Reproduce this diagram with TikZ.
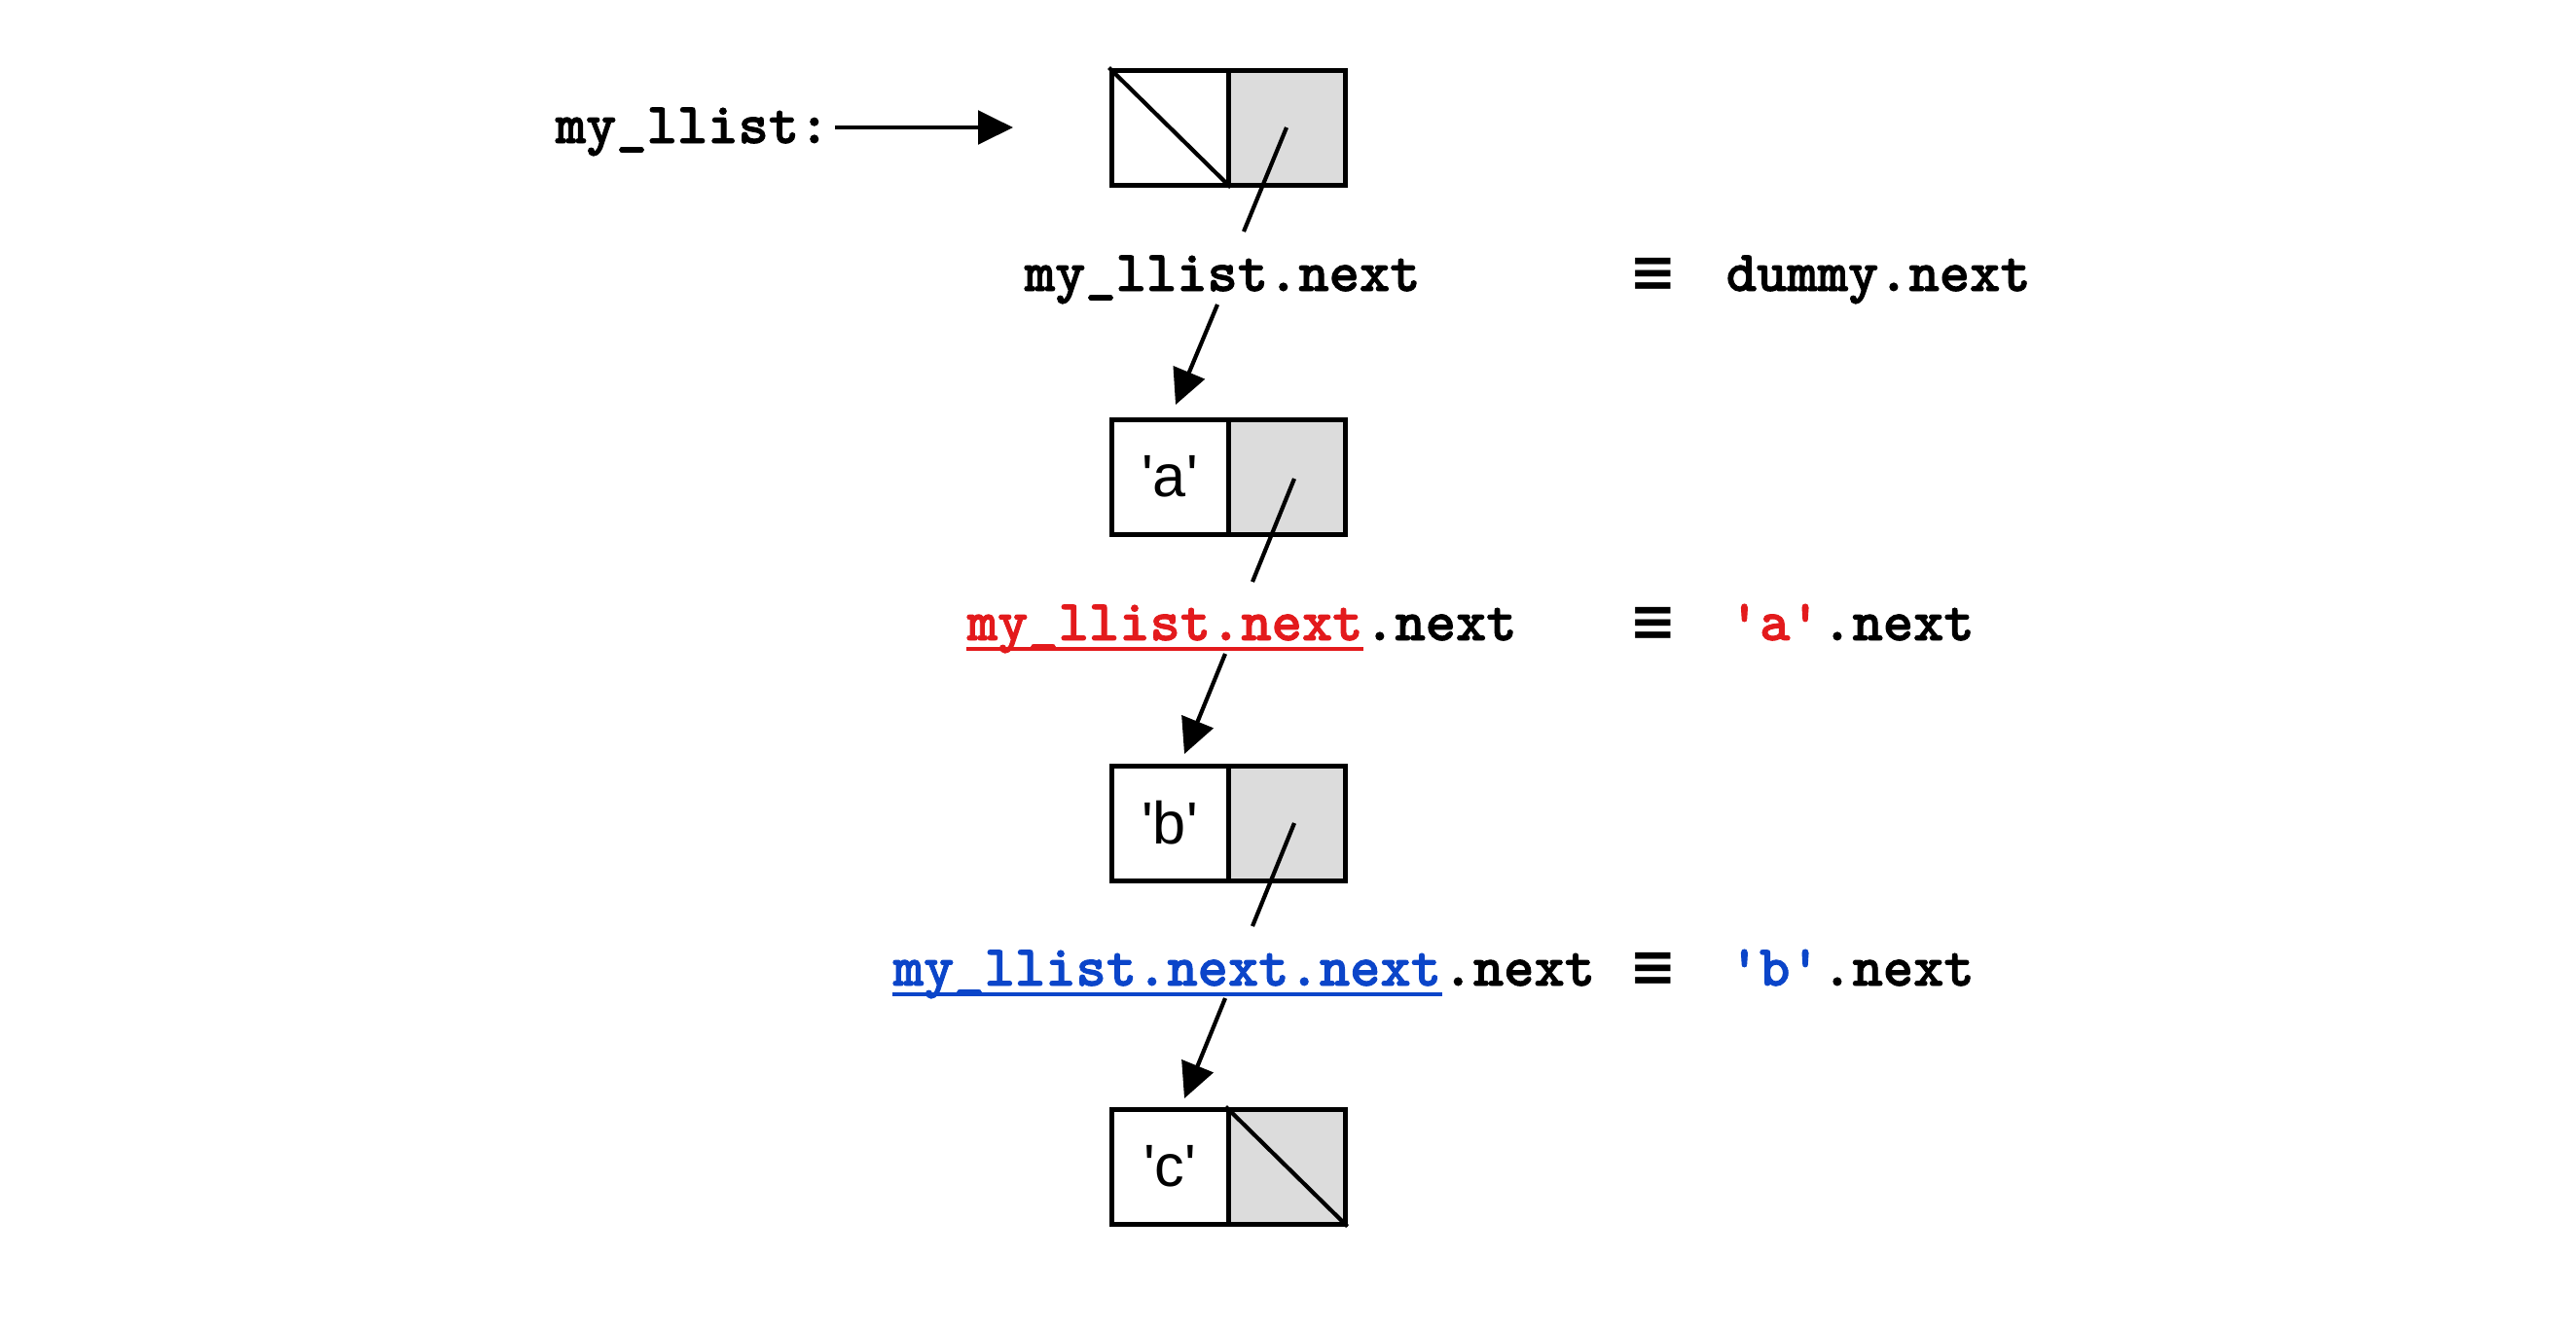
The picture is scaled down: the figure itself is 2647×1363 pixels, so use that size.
\documentclass[tikz,border=0pt]{standalone}
\usepackage{fontspec}
\newfontfamily\boxfont{Liberation Sans}
\newfontfamily\codefont{lmmonolt10-bold.otf}[FakeBold=1.5]
\newfontfamily\symfont{DejaVu Sans}
\usetikzlibrary{arrows.meta}
\definecolor{hlred}{HTML}{E31A1C}
\definecolor{hlblue}{HTML}{0B45C9}
\definecolor{cellgray}{HTML}{DCDCDC}
\begin{document}
\begin{tikzpicture}[x=0.25pt,y=-0.25pt,
  cell/.style={draw,line width=1.25pt,minimum width=30pt,minimum height=29.5pt,inner sep=0pt,
    font=\boxfont\fontsize{15.3pt}{18pt}\selectfont},
  ptrcell/.style={cell,fill=cellgray},
  nullline/.style={line width=1.05pt},
  code/.style={inner sep=0pt,anchor=base west,font=\codefont\fontsize{14.9pt}{18pt}\selectfont},
  eqv/.style={inner sep=0pt,anchor=base,font=\symfont\bfseries\fontsize{14.5pt}{18pt}\selectfont},
  link/.style={line width=1.05pt},
  ptr/.style={line width=1.05pt,-{Triangle[length=9pt,width=8.6pt]}},
  uline/.style={line width=0.85pt}]
\useasboundingbox (0,0) rectangle (2647,1363);

% boxes
\node[cell] (n0v) at (1202,131) {};
\node[ptrcell] (n0p) at (1322,131) {};
\draw[nullline] (n0v.north west) -- (n0v.south east);

\node[cell] (n1v) at (1202,490) {\textquotesingle a\textquotesingle};
\node[ptrcell] (n1p) at (1322,490) {};

\node[cell] (n2v) at (1202,846) {\textquotesingle b\textquotesingle};
\node[ptrcell] (n2p) at (1322,846) {};

\node[cell] (n3v) at (1202,1199) {\textquotesingle c\textquotesingle};
\node[ptrcell] (n3p) at (1322,1199) {};
\draw[nullline] (n3p.north west) -- (n3p.south east);

% head label and arrow
\node[code] (head) at (570,147) {my\_llist:};
\coordinate (headout) at (858,131);
\coordinate (headtip) at (1041,131);
\draw[ptr] (headout) -- (headtip);

% row 1
\node[code] (l1) at (1052,299) {my\_llist.next};
\node[eqv] (q1) at (1699,299) {≡};
\node[code] (d1) at (1773,299) {dummy.next};

% row 2
\node[code,text=hlred] (l2a) at (993,658) {my\_llist.next};
\node[code] (l2b) at (l2a.base east) {.next};
\draw[uline,hlred] ([yshift=-2.25pt]l2a.base west) -- ([yshift=-2.25pt]l2a.base east);
\node[eqv] (q2) at (1699,658) {≡};
\node[code,text=hlred] (d2a) at (1776,658) {\textquotesingle a\textquotesingle};
\node[code] (d2b) at (d2a.base east) {.next};

% row 3
\node[code,text=hlblue] (l3a) at (917,1013) {my\_llist.next.next};
\node[code] (l3b) at (l3a.base east) {.next};
\draw[uline,hlblue] ([yshift=-2.25pt]l3a.base west) -- ([yshift=-2.25pt]l3a.base east);
\node[eqv] (q3) at (1699,1013) {≡};
\node[code,text=hlblue] (d3a) at (1776,1013) {\textquotesingle b\textquotesingle};
\node[code] (d3b) at (d3a.base east) {.next};

% pointers (interrupted by the labels)
\coordinate (s1) at (1322,131);
\coordinate (e1) at (1278,238);
\coordinate (r1) at (1251,313);
\coordinate (t1) at (1208,416);
\draw[link] (s1) -- (e1);
\draw[ptr] (r1) -- (t1);

\coordinate (s2) at (1330,492);
\coordinate (e2) at (1287,598);
\coordinate (r2) at (1259,672);
\coordinate (t2) at (1217,775);
\draw[link] (s2) -- (e2);
\draw[ptr] (r2) -- (t2);

\coordinate (s3) at (1330,846);
\coordinate (e3) at (1287,952);
\coordinate (r3) at (1259,1026);
\coordinate (t3) at (1217,1129);
\draw[link] (s3) -- (e3);
\draw[ptr] (r3) -- (t3);
\end{tikzpicture}
\end{document}
